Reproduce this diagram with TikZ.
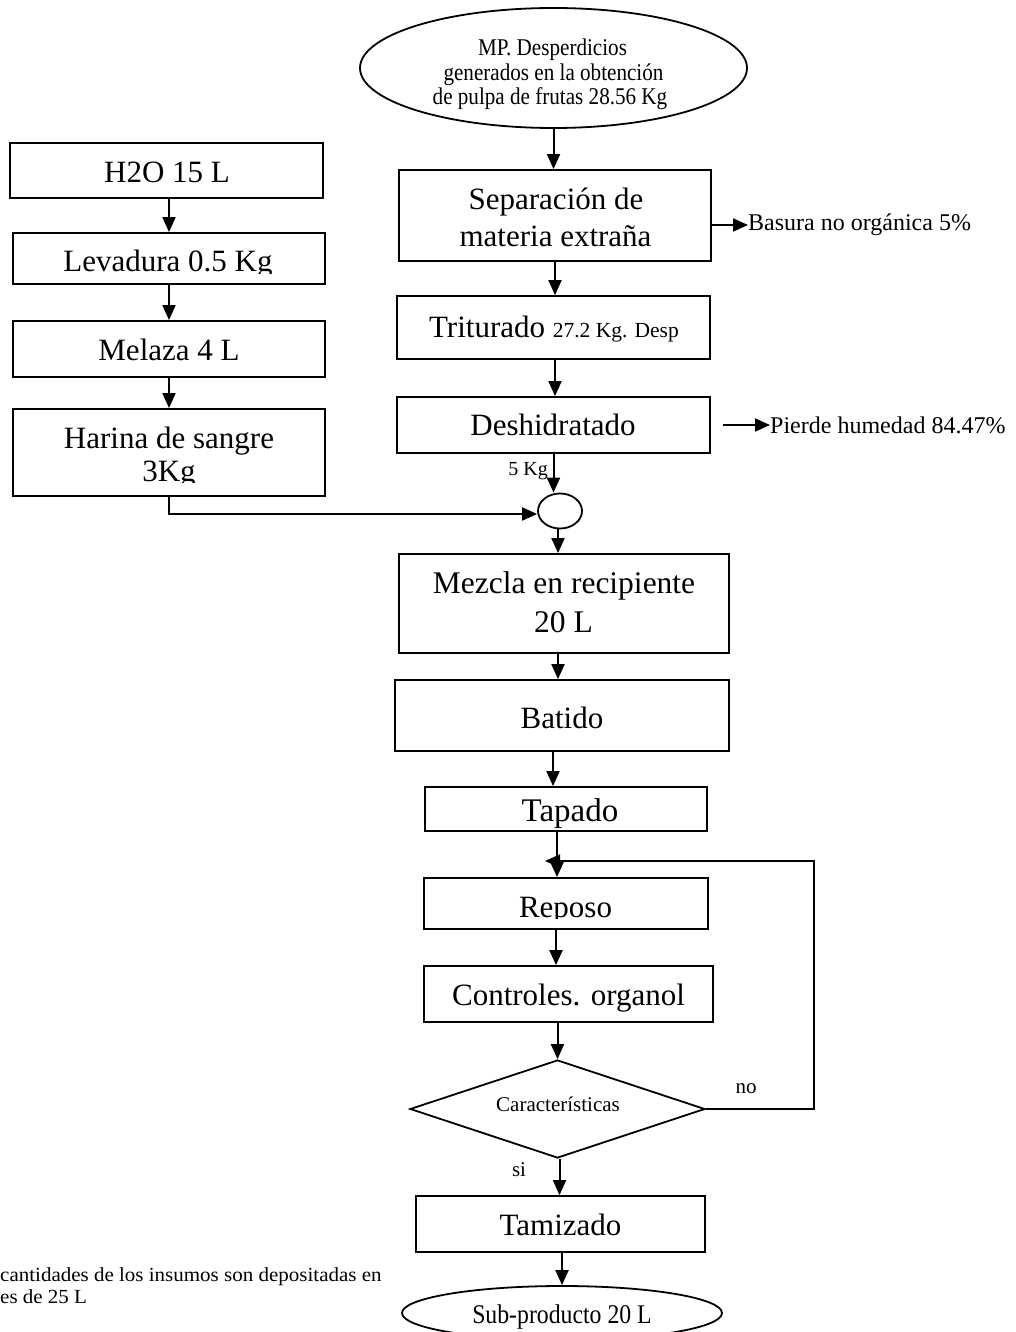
\documentclass[tikz,border=0pt]{standalone}
\usepackage{fontspec}
\setmainfont{Liberation Serif}
\newfontfamily\narrowA{Liberation Serif}[FakeStretch=0.88]
\newfontfamily\narrowB{Liberation Serif}[FakeStretch=0.88]
\newfontfamily\wideA{Liberation Serif}[FakeStretch=1.05]
\usetikzlibrary{arrows.meta,shapes.geometric}
\newcommand\fbig{\fontsize{31}{38}\selectfont}
\newcommand\fmez{\fontsize{31.5}{38}\selectfont}
\newcommand\ftap{\fontsize{33}{40}\selectfont}
\newcommand\fmid{\fontsize{24}{28}\selectfont}
\newcommand\fsm{\fontsize{21.5}{26}\selectfont}
\newcommand\fdia{\fontsize{21}{25}\selectfont}
\newcommand\fkg{\fontsize{20}{24}\selectfont}
\newcommand\ftop{\narrowA\fontsize{24}{24}\selectfont}
\newcommand\fsub{\narrowB\fontsize{27}{30}\selectfont}
\newcommand\fnote{\wideA\fontsize{20}{24}\selectfont}
\tikzset{
  box/.style={draw, rectangle, line width=1.8pt, inner sep=0pt},
  ell/.style={draw, ellipse, line width=1.8pt, inner sep=0pt},
  dia/.style={draw, diamond, line width=1.8pt, inner sep=0pt},
  txt/.style={inner sep=0pt, anchor=base, font=\fbig},
  sidetxt/.style={inner sep=0pt, anchor=west, font=\fmid},
  arr/.style={line width=2pt, -{Triangle[length=15pt,width=13pt]}},
  ln/.style={line width=2pt}
}
\begin{document}
\begin{tikzpicture}[x=1pt,y=-1pt]
\clip (0,0) rectangle (1015,1332);
\fill[white] (0,0) rectangle (1015,1332);

% ---------- left column ----------
\node[box, minimum width=313pt, minimum height=55pt] (h2o) at (166.5,170.5) {};
\node[txt] (h2o-t) at (167,183) {H2O 15 L};
\node[box, minimum width=312pt, minimum height=51pt] (lev) at (169,258.5) {};
\begin{scope}
  \clip (13,233) rectangle (325,273);
  \node[txt] (lev-t) at (168,271.5) {Levadura 0.5 Kg};
\end{scope}
\node[box, minimum width=312pt, minimum height=56pt] (mel) at (169,349) {};
\node[txt] (mel-t) at (169,360) {Melaza 4 L};
\node[box, minimum width=312pt, minimum height=87pt] (har) at (169,452.5) {};
\node[txt] (har-t1) at (169,448) {Harina de sangre};
\begin{scope}
  \clip (13,455) rectangle (325,482);
  \node[txt] (har-t2) at (169,481) {3Kg};
\end{scope}

% ---------- main column ----------
\node[ell, minimum width=387pt, minimum height=120pt] (topell) at (553.5,68) {};
\node[txt, font=\ftop] (top-t1) at (552.5,56) {MP. Desperdicios};
\node[txt, font=\ftop] (top-t2) at (553.5,80.5) {generados en la obtención};
\node[txt, font=\ftop] (top-t3) at (550,105) {de pulpa de frutas 28.56 Kg};

\node[box, minimum width=312pt, minimum height=91pt] (sep) at (555,215.5) {};
\node[txt] (sep-t1) at (556,210) {Separación de};
\node[txt] (sep-t2) at (555.5,247) {materia extraña};

\node[box, minimum width=313pt, minimum height=63pt] (trit) at (553.5,327.5) {};
\node[txt] (trit-t) at (554,337) {{\fbig Triturado }{\fsm 27.2 Kg. Desp}};

\node[box, minimum width=313pt, minimum height=56pt] (desh) at (553.5,425) {};
\node[txt] (desh-t) at (553,435) {Deshidratado};

\node[ell, minimum width=44pt, minimum height=35pt] (junc) at (560,511) {};

\node[box, minimum width=330pt, minimum height=99pt] (mez) at (564,603.5) {};
\node[txt, font=\fmez] (mez-t1) at (564,593) {Mezcla en recipiente};
\node[txt, font=\fmez] (mez-t2) at (563.5,632) {20 L};

\node[box, minimum width=334pt, minimum height=71pt] (bat) at (562,715.5) {};
\node[txt] (bat-t) at (562,728) {Batido};

\node[box, minimum width=282pt, minimum height=44pt] (tap) at (566,809) {};
\node[txt, font=\ftap] (tap-t) at (570,821) {Tapado};

\node[box, minimum width=284pt, minimum height=51pt] (rep) at (566,903.5) {};
\begin{scope}
  \clip (424,878) rectangle (708,918.5);
  \node[txt] (rep-t) at (565.5,917.5) {Reposo};
\end{scope}

\node[box, minimum width=289pt, minimum height=56pt] (ctrl) at (568.5,994) {};
\node[txt] (ctrl-t) at (568.5,1005) {Controles. organol};

\node[dia, minimum width=295pt, minimum height=98pt] (dec) at (557.5,1109) {};
\node[txt, font=\fdia] (dec-t) at (558,1111) {Características};

\node[box, minimum width=289pt, minimum height=56pt] (tam) at (560.5,1224) {};
\node[txt] (tam-t) at (560.5,1235) {Tamizado};

\node[ell, minimum width=320pt, minimum height=54pt] (subp) at (562,1313) {};
\node[txt, font=\fsub] (subp-t) at (562,1323) {Sub-producto 20 L};

% ---------- side labels ----------
\node[sidetxt] (basura) at (748,225) {Basura no orgánica 5\%};
\node[sidetxt] (pierde) at (770,425) {Pierde humedad 84.47\%};
\coordinate (pierdeS) at (723,425);
\node[txt, font=\fkg, anchor=base east] (kg5) at (548,475) {5 Kg};
\node[txt, font=\fdia] (no) at (746,1093) {no};
\node[txt, font=\fdia] (si) at (519,1176) {si};
\node[inner sep=0pt, anchor=base west, font=\fnote] (note1) at (0,1281) {cantidades de los insumos son depositadas en};
\node[inner sep=0pt, anchor=base west, font=\fnote] (note2) at (0,1303) {es de 25 L};

% ---------- connectors ----------
\draw[arr] (lev.north |- h2o.south) -- (lev.north);
\draw[arr] (mel.north |- lev.south) -- (mel.north);
\draw[arr] (har.north |- mel.south) -- (har.north);
\draw[arr] (har.south) |- ([yshift=-3pt]junc.west);

\draw[arr] (topell.south) -- (topell.south |- sep.north);
\draw[arr] (sep.south) -- (sep.south |- trit.north);
\draw[arr] (sep.south |- trit.south) -- (sep.south |- desh.north);
\draw[arr] (desh.south) -- (desh.south |- junc.north);
\draw[arr] ([xshift=-2pt]junc.south) -- ([xshift=-2pt]junc.south |- mez.north);
\draw[arr] ([xshift=-4pt]bat.north |- mez.south) -- ([xshift=-4pt]bat.north);
\draw[arr] ([xshift=-9pt]bat.south) -- ([xshift=-9pt]bat.south |- tap.north);
\draw[arr] ([xshift=-9pt]tap.south) -- ([xshift=-9pt]tap.south |- rep.north);
\draw[arr] ([xshift=-10pt]rep.south) -- ([xshift=-10pt]rep.south |- ctrl.north);
\draw[arr] (dec.north |- ctrl.south) -- (dec.north);
\draw[arr] ([xshift=2pt]dec.south) -- ([xshift=2pt]dec.south |- tam.north);
\draw[arr] (subp.north |- tam.south) -- (subp.north);

\coordinate (loopend) at (545,861);
\draw[arr] (dec.east) -- ++(108,0) |- (loopend);

\draw[arr] (sep.east |- basura.west) -- (basura.west);
\draw[arr] (pierdeS) -- (pierde.west);
\end{tikzpicture}
\end{document}
